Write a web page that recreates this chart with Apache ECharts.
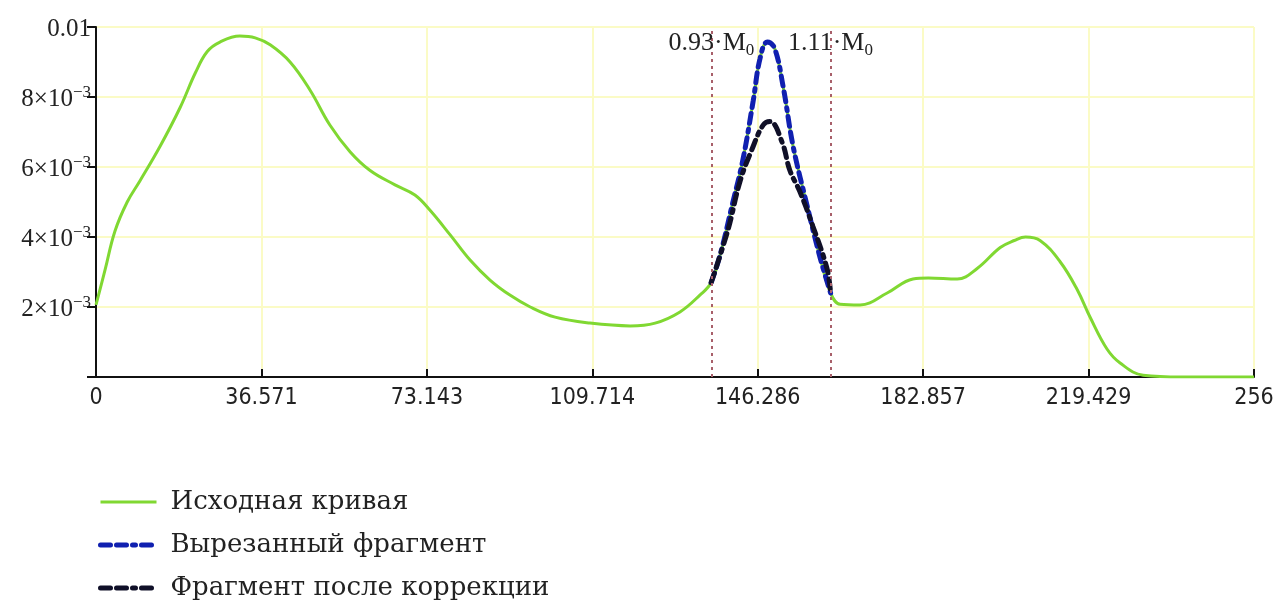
<!DOCTYPE html>
<html>
<head>
<meta charset="utf-8">
<script src="https://cdn.jsdelivr.net/npm/echarts@6/dist/echarts.min.js"></script>
<style>
html,body{margin:0;padding:0;background:#fff;}
#chart{width:1278px;height:606px;}
</style>
</head>
<body>
<div id="chart"></div>
<script>
// Original curve
const origX = [0, 2.0, 4.2, 6.9, 9.7, 14.2, 18.6, 22.0, 24.6, 27.4, 31.8, 35.2, 38.5, 42.9, 47.3, 51.7, 56.2, 60.6, 66.1, 70.5, 73.8, 78.3, 82.7, 87.1, 91.5, 96.0, 101.5, 109.2, 118.1, 123.6, 129.1, 133.5, 136.0, 138.0, 140.8, 143.0, 145.3, 146.8, 148.4, 150.0, 151.9, 154.1, 157.2, 160.1, 162.4, 164.5, 168.9, 174.9, 180.6, 184.0, 190.4, 194.8, 199.9, 203.0, 205.5, 208.7, 213.1, 216.9, 219.8, 223.5, 226.4, 231.5, 240, 256];
const origY = [0.00206, 0.00306, 0.00417, 0.0050, 0.0056, 0.0066, 0.0077, 0.0087, 0.0093, 0.00957, 0.00974, 0.00969, 0.00949, 0.0090, 0.0082, 0.0072, 0.00643, 0.0059, 0.00549, 0.0052, 0.00477, 0.00406, 0.00334, 0.00277, 0.00234, 0.0020, 0.00171, 0.00154, 0.00146, 0.00154, 0.00186, 0.00234, 0.0027, 0.0035, 0.0050, 0.0062, 0.0079, 0.0091, 0.00957, 0.0094, 0.0083, 0.0066, 0.0049, 0.0034, 0.0024, 0.00208, 0.00206, 0.0024, 0.0028, 0.00283, 0.0028, 0.0031, 0.0037, 0.0039, 0.0040, 0.0039, 0.0033, 0.0025, 0.0017, 0.0008, 0.0004, 0.00005, 0, 0];
// Cut fragment
const cutX = [136.0, 138.0, 140.8, 143.0, 145.3, 146.8, 148.4, 150.0, 151.9, 154.1, 157.2, 160.1, 162.4];
const cutY = [0.0027, 0.0035, 0.0050, 0.0062, 0.0079, 0.0091, 0.00957, 0.0094, 0.0083, 0.0066, 0.0049, 0.0034, 0.0024];
// Corrected fragment
const corrX = [136.0, 139.7, 142.4, 145.0, 147.5, 149.0, 151.7, 153.4, 155.6, 158.5, 161.6, 162.4];
const corrY = [0.0027, 0.0042, 0.0056, 0.0065, 0.0072, 0.0073, 0.0067, 0.0059, 0.0053, 0.0043, 0.0031, 0.0024];
// Boundaries
const boundX = [136.05, 162.38];
const boundLabels = ['0.93·M', '1.11·M'];
// Tick labels
const xTickLabels = ['0', '36.571', '73.143', '109.714', '146.286', '182.857', '219.429', '256'];
const yTickLabels = ['', '2', '4', '6', '8', '0.01'];
const seriesNames = ['Исходная кривая', 'Вырезанный фрагмент', 'Фрагмент после коррекции'];

const zip = (a, b) => a.map((v, i) => [v, b[i]]);
const serif = '"Liberation Serif", "DejaVu Serif", serif';
const gridColor = '#fbfbc6';

const chart = echarts.init(document.getElementById('chart'));
chart.setOption({
  animation: false,
  backgroundColor: '#ffffff',
  grid: { left: 96, right: 24, top: 27, bottom: 229, containLabel: false },
  legend: {
    orient: 'vertical', left: 98, top: 488, itemGap: 15, padding: 0,
    itemWidth: 56, itemHeight: 14,
    itemStyle: { color: 'rgba(0,0,0,0)', borderWidth: 0, opacity: 0 },
    lineStyle: { width: 'inherit' },
    textStyle: { fontFamily: '"DejaVu Serif", serif', fontSize: 26, color: '#222', lineHeight: 28, padding: [0, 0, 0, 9] },
    data: seriesNames
  },
  xAxis: {
    type: 'value', min: 0, max: 256, interval: 256 / 7,
    axisLine: { onZero: false, lineStyle: { color: '#111', width: 2 } },
    axisTick: { show: true, length: 8, inside: true, lineStyle: { color: '#111', width: 2 } },
    axisLabel: {
      margin: 10, color: '#222', fontSize: 23,
      fontFamily: '"DejaVu Sans Condensed", "Liberation Sans Narrow", sans-serif',
      formatter: (v, i) => xTickLabels[i]
    },
    splitLine: { show: true, lineStyle: { color: gridColor, width: 2 } }
  },
  yAxis: {
    type: 'value', min: 0, max: 0.01, interval: 0.002,
    axisLine: { show: true, lineStyle: { color: '#111', width: 2 } },
    axisTick: { show: true, length: 9, lineStyle: { color: '#111', width: 2 } },
    axisLabel: {
      margin: 5, color: '#222', fontFamily: serif, fontSize: 25,
      formatter: (v, i) => {
        const t = yTickLabels[i];
        if (!t) return '';
        if (t.indexOf('.') >= 0) return '{b|' + t + '}';
        return '{b|' + t + '×10}{s|−3}';
      },
      rich: {
        b: { fontFamily: serif, fontSize: 25, color: '#222', lineHeight: 28, padding: [4, 0, 0, 0] },
        s: { fontFamily: serif, fontSize: 17, color: '#222', lineHeight: 28, padding: [0, 0, 8, 0] }
      }
    },
    splitLine: { show: true, lineStyle: { color: gridColor, width: 2 } }
  },
  series: [
    {
      name: seriesNames[0], type: 'line', data: zip(origX, origY),
      smooth: 0.4, symbol: 'none', z: 2,
      itemStyle: { color: '#80d832' },
      lineStyle: { color: '#80d832', width: 3 },
      markLine: {
        silent: true, symbol: ['none', 'none'],
        lineStyle: { color: '#a8606a', width: 2, type: [3, 4] },
        label: {
          show: true, position: 'end', distance: -32,
          formatter: p => '{t|' + boundLabels[p.dataIndex] + '}{u|0}',
          rich: {
            t: { fontFamily: serif, fontSize: 26, color: '#222' },
            u: { fontFamily: serif, fontSize: 17, color: '#222', padding: [14, 0, 0, 0] }
          }
        },
        data: boundX.map(x => ({ xAxis: x }))
      }
    },
    {
      name: seriesNames[1], type: 'line', data: zip(cutX, cutY),
      smooth: 0.4, symbol: 'none', z: 3,
      itemStyle: { color: '#1020b0' },
      lineStyle: { color: '#1020b0', width: 5, type: [10, 6, 10, 6, 3, 6], cap: 'round' }
    },
    {
      name: seriesNames[2], type: 'line', data: zip(corrX, corrY),
      smooth: 0.4, symbol: 'none', z: 4,
      itemStyle: { color: '#101028' },
      lineStyle: { color: '#101028', width: 5, type: [10, 6, 10, 6, 3, 6], cap: 'round' }
    }
  ]
});
</script>
</body>
</html>
